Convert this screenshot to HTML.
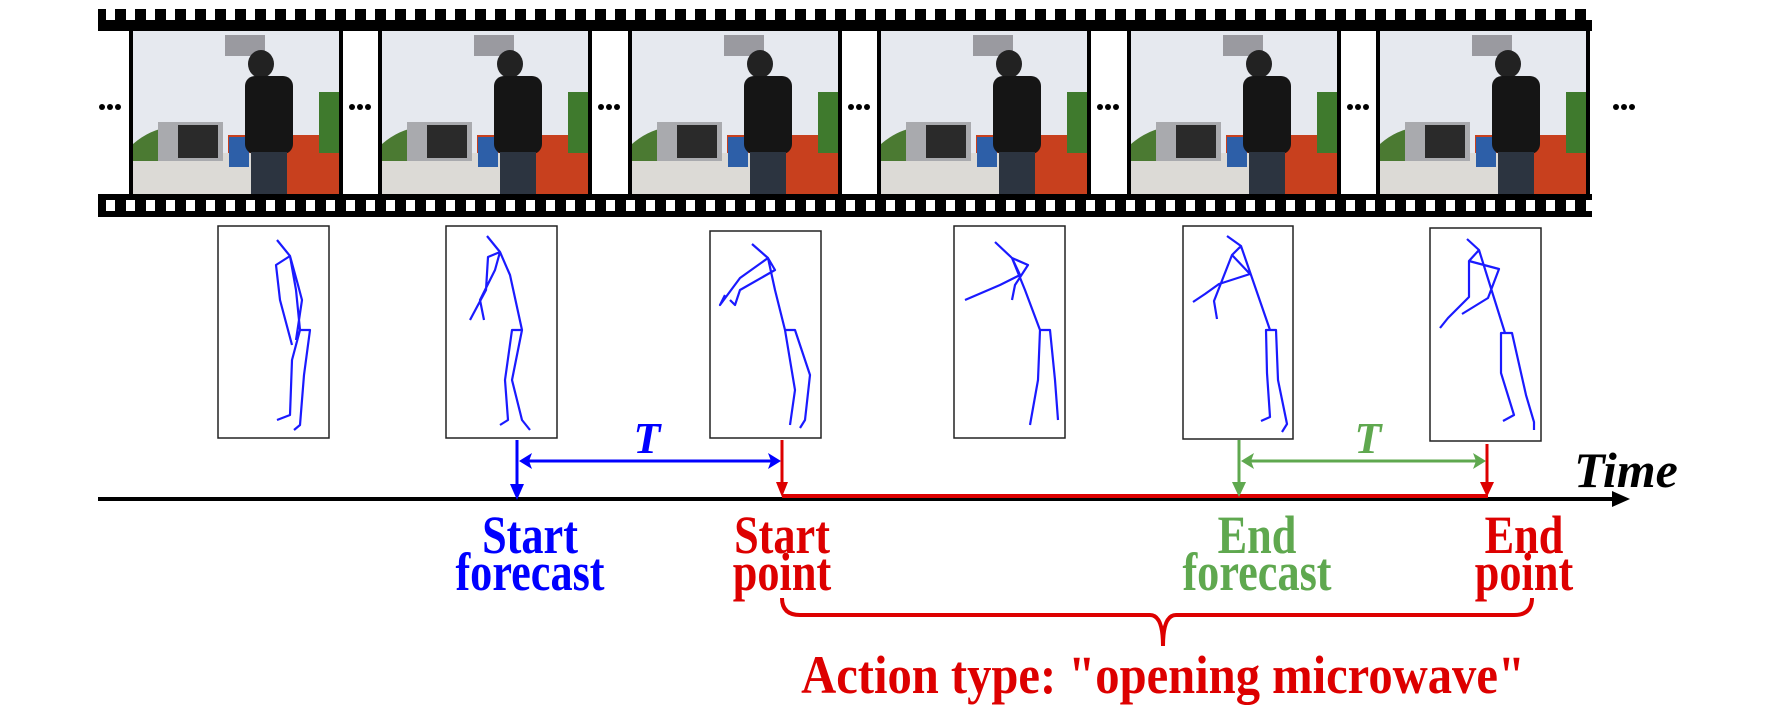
<!DOCTYPE html>
<html><head><meta charset="utf-8"><style>
html,body{margin:0;padding:0;background:#fff;}
body{width:1770px;height:707px;overflow:hidden;}
text{font-family:"Liberation Serif",serif;font-weight:bold;}
</style></head><body>
<svg width="1770" height="707" viewBox="0 0 1770 707" xmlns="http://www.w3.org/2000/svg">
<defs>
<pattern id="holes" x="100" y="0" width="20" height="40" patternUnits="userSpaceOnUse">
<rect x="6" y="14" width="9" height="11" fill="#fff"/>
</pattern>
<pattern id="holes2" x="100" y="0" width="20" height="40" patternUnits="userSpaceOnUse">
<rect x="6" y="0" width="9" height="11" fill="#fff"/>
<rect x="6" y="40" width="9" height="0" fill="#fff"/>
</pattern>
<g id="photo">
<rect x="0" y="0" width="206" height="163" fill="#e6e9ef"/>
<rect x="95" y="104" width="111" height="59" fill="#c8401e"/>
<rect x="0" y="122" width="120" height="41" fill="#dcdad6"/>
<path d="M0 113 Q30 87 70 100 L60 130 L0 130Z" fill="#4b7a32"/>
<rect x="25" y="91" width="65" height="39" fill="#a9aaae"/>
<rect x="45" y="94" width="40" height="33" fill="#2a2a2a"/>
<rect x="96" y="106" width="20" height="30" fill="#2d5fa8"/>
<rect x="92" y="4" width="40" height="21" fill="#9a9aa0"/>
<ellipse cx="128" cy="33" rx="13" ry="14" fill="#222"/>
<rect x="112" y="45" width="48" height="78" rx="10" fill="#151515"/>
<rect x="118" y="121" width="36" height="42" fill="#2c3440"/>
<rect x="186" y="61" width="20" height="61" fill="#3f7a2d"/>
</g>
</defs>

<!-- film strip -->
<rect x="98" y="9" width="1494" height="22" fill="#000"/>
<rect x="98" y="9" width="1494" height="22" fill="url(#holes)" transform="translate(0,-5)"/>
<rect x="98" y="194" width="1494" height="23" fill="#000"/>
<rect x="98" y="200" width="1494" height="11" fill="url(#holes2)"/>

<g fill="#000">
<rect x="129" y="29" width="214" height="167"/>
<rect x="378" y="29" width="214" height="167"/>
<rect x="628" y="29" width="214" height="167"/>
<rect x="877" y="29" width="214" height="167"/>
<rect x="1127" y="29" width="214" height="167"/>
<rect x="1376" y="29" width="214" height="167"/>
</g>
<use href="#photo" x="133" y="31"/>
<use href="#photo" x="382" y="31"/>
<use href="#photo" x="632" y="31"/>
<use href="#photo" x="881" y="31"/>
<use href="#photo" x="1131" y="31"/>
<use href="#photo" x="1380" y="31"/>

<g fill="#000">
<circle cx="102" cy="107" r="3"/><circle cx="110" cy="107" r="3"/><circle cx="118" cy="107" r="3"/>
<circle cx="352" cy="107" r="3"/><circle cx="360" cy="107" r="3"/><circle cx="368" cy="107" r="3"/>
<circle cx="601" cy="107" r="3"/><circle cx="609" cy="107" r="3"/><circle cx="617" cy="107" r="3"/>
<circle cx="851" cy="107" r="3"/><circle cx="859" cy="107" r="3"/><circle cx="867" cy="107" r="3"/>
<circle cx="1100" cy="107" r="3"/><circle cx="1108" cy="107" r="3"/><circle cx="1116" cy="107" r="3"/>
<circle cx="1350" cy="107" r="3"/><circle cx="1358" cy="107" r="3"/><circle cx="1366" cy="107" r="3"/>
<circle cx="1616" cy="107" r="3"/><circle cx="1624" cy="107" r="3"/><circle cx="1632" cy="107" r="3"/>
</g>

<!-- skeleton boxes -->
<g fill="#fff" stroke="#222" stroke-width="1.5">
<rect x="218" y="226" width="111" height="212"/>
<rect x="446" y="226" width="111" height="212"/>
<rect x="710" y="231" width="111" height="207"/>
<rect x="954" y="226" width="111" height="212"/>
<rect x="1183" y="226" width="110" height="213"/>
<rect x="1430" y="228" width="111" height="213"/>
</g>
<g fill="none" stroke="#1a1aff" stroke-width="2.2" stroke-linejoin="round">
<path d="M277 240 L290 256 L296 290 L300 330 L292 360 L290 415 L277 420 M300 330 L310 330 L304 375 L300 425 L294 430 M290 256 L276 265 L280 300 L292 345 M290 256 L298 285 L302 300 L296 340"/>
<path d="M487 236 L500 252 L510 275 L522 330 L512 380 L522 420 L530 430 M522 330 L512 330 L505 380 L508 420 L500 425 M500 252 L488 257 L486 290 L470 320 M500 252 L495 270 L480 300 L484 320"/>
<path d="M752 244 L768 258 L775 290 L785 330 L795 390 L790 425 M785 330 L795 330 L810 375 L805 420 L800 428 M768 258 L740 278 L720 305 L725 295 M768 258 L775 270 L740 290 L735 305 L730 300"/>
<path d="M995 242 L1012 258 L1025 290 L1040 330 L1038 380 L1030 425 M1040 330 L1050 330 L1055 380 L1058 420 M1012 258 L1020 275 L1000 285 L965 300 M1012 258 L1028 265 L1015 285 L1012 300"/>
<path d="M1227 236 L1241 246 L1270 330 L1276 330 L1278 380 L1287 424 L1282 432 M1270 330 L1266 330 L1267 373 L1270 417 L1261 421 M1241 246 L1232 255 L1250 274 L1219 284 L1205 294 M1232 255 L1214 301 L1217 319 M1205 294 L1193 302"/>
<path d="M1467 239 L1479 250 L1505 333 L1512 333 L1526 395 L1534 422 L1534 430 M1505 333 L1501 333 L1501 373 L1514 415 L1503 421 M1479 250 L1469 261 L1469 297 L1448 318 L1440 328 M1469 261 L1499 269 L1488 298 L1462 314"/>
</g>

<!-- axis -->
<line x1="98" y1="499" x2="1616" y2="499" stroke="#000" stroke-width="4"/>
<path d="M1612 491 L1630 499 L1612 507 Z" fill="#000"/>
<line x1="782" y1="496" x2="1488" y2="496" stroke="#dd0000" stroke-width="4"/>

<g stroke="#0000ff" stroke-width="3" fill="none">
<line x1="517" y1="440" x2="517" y2="488"/>
<line x1="522" y1="461" x2="777" y2="461"/>
</g>
<g fill="#0000ff">
<path d="M510 484 L517 500 L524 484 Z"/>
<path d="M519 461 L532 453 L529 461 L532 469 Z"/>
<path d="M781 461 L768 453 L771 461 L768 469 Z"/>
</g>
<text x="647" y="453" font-size="44" font-style="italic" fill="#0000ff" text-anchor="middle">T</text>

<g stroke="#dd0000" stroke-width="3"><line x1="782" y1="440" x2="782" y2="486"/><line x1="1487" y1="444" x2="1487" y2="486"/></g>
<g fill="#dd0000"><path d="M776 482 L782 497 L788 482 Z"/><path d="M1480 482 L1487 497 L1494 482 Z"/></g>

<g stroke="#5fa84f" stroke-width="3" fill="none">
<line x1="1239" y1="440" x2="1239" y2="486"/>
<line x1="1244" y1="461" x2="1482" y2="461"/>
</g>
<g fill="#5fa84f">
<path d="M1232 482 L1239 497 L1246 482 Z"/>
<path d="M1241 461 L1254 453 L1251 461 L1254 469 Z"/>
<path d="M1486 461 L1473 453 L1476 461 L1473 469 Z"/>
</g>
<text x="1368" y="453" font-size="44" font-style="italic" fill="#5fa84f" text-anchor="middle">T</text>

<text x="1626" y="487" font-size="50" font-style="italic" fill="#000" text-anchor="middle">Time</text>

<!-- labels -->
<g font-size="54" text-anchor="middle">
<g transform="translate(530 0) scale(0.82 1)">
<text x="0" y="553" fill="#0000ff">Start</text>
<text x="0" y="590" fill="#0000ff">forecast</text></g>
<g transform="translate(782 0) scale(0.82 1)">
<text x="0" y="553" fill="#dd0000">Start</text>
<text x="0" y="590" fill="#dd0000">point</text></g>
<g transform="translate(1257 0) scale(0.82 1)">
<text x="0" y="553" fill="#5fa84f">End</text>
<text x="0" y="590" fill="#5fa84f">forecast</text></g>
<g transform="translate(1524 0) scale(0.82 1)">
<text x="0" y="553" fill="#dd0000">End</text>
<text x="0" y="590" fill="#dd0000">point</text></g>
<g transform="translate(1163 0) scale(0.9 1)">
<text x="0" y="693" fill="#dd0000">Action type: "opening microwave"</text></g>
</g>

<path d="M782 598 Q782 615 800 615 L1150 615 Q1163 615 1163 646 Q1163 615 1176 615 L1514 615 Q1532 615 1532 598" fill="none" stroke="#dd0000" stroke-width="4"/>
</svg>
</body></html>
